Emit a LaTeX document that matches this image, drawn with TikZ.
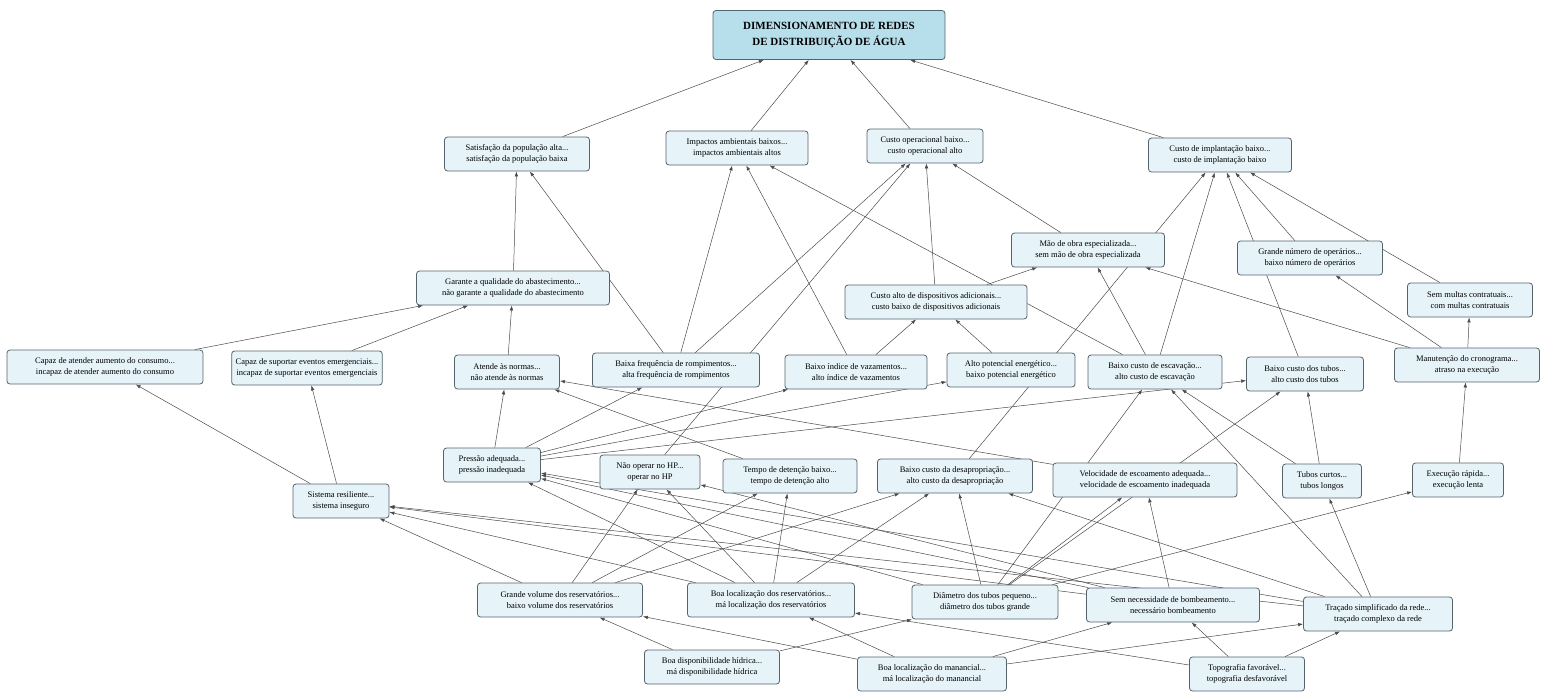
\documentclass[tikz,border=0pt]{standalone}
\usepackage{fontspec}
\setmainfont{Liberation Serif}
\usepackage{xcolor}
\usetikzlibrary{arrows.meta,backgrounds}
\definecolor{boxfill}{HTML}{E6F4FA}
\definecolor{boxdraw}{HTML}{55646A}
\definecolor{titlefill}{HTML}{B6DEEB}
\definecolor{linkcol}{HTML}{4A4A4A}
\begin{document}
\begin{tikzpicture}[x=1pt,y=-1pt,>={Latex[length=5pt,width=3.5pt]},
 fator/.style={draw=boxdraw,fill=boxfill,rounded corners=3pt,align=center,inner xsep=4pt,inner ysep=3pt,minimum height=34pt,font=\fontsize{8.5}{10.5}\selectfont,line width=0.8pt},
 meta/.style={fator,fill=titlefill,font=\fontsize{11}{16}\selectfont\bfseries,minimum width=232pt,minimum height=49pt},
 link/.style={->,draw=linkcol,line width=0.5pt}]
\useasboundingbox (0,0) rectangle (1542,691);
\node[meta] (nTit) at (829,35) {DIMENSIONAMENTO DE REDES\\DE DISTRIBUIÇÃO DE ÁGUA};
\node[fator,minimum width=145pt] (nSat) at (517,154) {Satisfação da população alta...\\satisfação da população baixa};
\node[fator,minimum width=142pt] (nImp) at (737,148) {Impactos ambientais baixos...\\impactos ambientais altos};
\node[fator,minimum width=116pt] (nCop) at (925,146) {Custo operacional baixo...\\custo operacional alto};
\node[fator,minimum width=143pt] (nCimp) at (1220,155) {Custo de implantação baixo...\\custo de implantação baixo};
\node[fator,minimum width=193pt] (nGar) at (513,288) {Garante a qualidade do abastecimento...\\não garante a qualidade do abastecimento};
\node[fator,minimum width=153pt] (nMao) at (1088,250) {Mão de obra especializada...\\sem mão de obra especializada};
\node[fator,minimum width=145pt] (nOper) at (1310,258) {Grande número de operários...\\baixo número de operários};
\node[fator,minimum width=125pt] (nMult) at (1470,300) {Sem multas contratuais...\\com multas contratuais};
\node[fator,minimum width=182pt] (nDisp) at (936,302) {Custo alto de dispositivos adicionais...\\custo baixo de dispositivos adicionais};
\node[fator,minimum width=196pt] (nAten) at (105,367) {Capaz de atender aumento do consumo...\\incapaz de atender aumento do consumo};
\node[fator,minimum width=149pt] (nSup) at (307,368) {Capaz de suportar eventos emergenciais...\\incapaz de suportar eventos emergenciais};
\node[fator,minimum width=105pt] (nNorm) at (507,372) {Atende às normas...\\não atende às normas};
\node[fator,minimum width=167pt] (nRomp) at (676,370) {Baixa frequência de rompimentos...\\alta frequência de rompimentos};
\node[fator,minimum width=142pt] (nVaz) at (856,372) {Baixo índice de vazamentos...\\alto índice de vazamentos};
\node[fator,minimum width=128pt] (nPot) at (1011,370) {Alto potencial energético...\\baixo potencial energético};
\node[fator,minimum width=134pt] (nEsc) at (1155,372) {Baixo custo de escavação...\\alto custo de escavação};
\node[fator,minimum width=117pt] (nTub) at (1305,374) {Baixo custo dos tubos...\\alto custo dos tubos};
\node[fator,minimum width=145pt] (nMan) at (1467,365) {Manutenção do cronograma...\\atraso na execução};
\node[fator,minimum width=97pt] (nPres) at (492,465) {Pressão adequada...\\pressão inadequada};
\node[fator,minimum width=100pt] (nHP) at (650,472) {Não operar no HP...\\operar no HP};
\node[fator,minimum width=134pt] (nTdet) at (790,476) {Tempo de detenção baixo...\\tempo de detenção alto};
\node[fator,minimum width=155pt] (nDesap) at (955,476) {Baixo custo da desapropriação...\\alto custo da desapropriação};
\node[fator,minimum width=184pt] (nVel) at (1145,480) {Velocidade de escoamento adequada...\\velocidade de escoamento inadequada};
\node[fator,minimum width=79pt] (nCurt) at (1322,481) {Tubos curtos...\\tubos longos};
\node[fator,minimum width=91pt] (nExec) at (1458,480) {Execução rápida...\\execução lenta};
\node[fator,minimum width=96pt] (nSis) at (341,501) {Sistema resiliente...\\sistema inseguro};
\node[fator,minimum width=165pt] (nVol) at (560,600) {Grande volume dos reservatórios...\\baixo volume dos reservatórios};
\node[fator,minimum width=167pt] (nLocr) at (771,600) {Boa localização dos reservatórios...\\má localização dos reservatórios};
\node[fator,minimum width=146pt] (nDiam) at (985,602) {Diâmetro dos tubos pequeno...\\diâmetro dos tubos grande};
\node[fator,minimum width=173pt] (nBomb) at (1173,605) {Sem necessidade de bombeamento...\\necessário bombeamento};
\node[fator,minimum width=149pt] (nTrac) at (1378,614) {Traçado simplificado da rede...\\traçado complexo da rede};
\node[fator,minimum width=135pt] (nHid) at (712,667) {Boa disponibilidade hídrica...\\má disponibilidade hídrica};
\node[fator,minimum width=149pt] (nManc) at (932,674) {Boa localização do manancial...\\má localização do manancial};
\node[fator,minimum width=115pt] (nTopo) at (1247,674) {Topografia favorável...\\topografia desfavorável};
\begin{scope}[on background layer]
\draw[link] (nSat) -- (nTit);
\draw[link] (nImp) -- (nTit);
\draw[link] (nCop) -- (nTit);
\draw[link] (nCimp) -- (nTit);
\draw[link] (nGar) -- (nSat);
\draw[link] (nRomp) -- (nSat);
\draw[link] (nRomp) -- (nImp);
\draw[link] (nVaz) -- (nImp);
\draw[link] (nEsc) -- (nImp);
\draw[link] (nRomp) -- (nCop);
\draw[link] (nHP) -- (nCop);
\draw[link] (nDisp) -- (nCop);
\draw[link] (nMao) -- (nCop);
\draw[link] (nDesap) -- (nCimp);
\draw[link] (nEsc) -- (nCimp);
\draw[link] (nTub) -- (nCimp);
\draw[link] (nOper) -- (nCimp);
\draw[link] (nMult) -- (nCimp);
\draw[link] (nDisp) -- (nMao);
\draw[link] (nEsc) -- (nMao);
\draw[link] (nMan) -- (nMao);
\draw[link] (nMan) -- (nOper);
\draw[link] (nMan) -- (nMult);
\draw[link] (nExec) -- (nMan);
\draw[link] (nVaz) -- (nDisp);
\draw[link] (nPot) -- (nDisp);
\draw[link] (nAten) -- (nGar);
\draw[link] (nSup) -- (nGar);
\draw[link] (nNorm) -- (nGar);
\draw[link] (nSis) -- (nAten);
\draw[link] (nSis) -- (nSup);
\draw[link] (nPres) -- (nNorm);
\draw[link] (nTdet) -- (nNorm);
\draw[link] (nVel) -- (nNorm);
\draw[link] (nPres) -- (nRomp);
\draw[link] (nPres) -- (nVaz);
\draw[link] (nPres) -- (nPot);
\draw[link] (nPres) -- (nTub);
\draw[link] (nDiam) -- (nPres);
\draw[link] (nBomb) -- (nPres);
\draw[link] (nTrac) -- (nPres);
\draw[link] (nLocr) -- (nPres);
\draw[link] (nVol) -- (nHP);
\draw[link] (nLocr) -- (nHP);
\draw[link] (nBomb) -- (nHP);
\draw[link] (nVol) -- (nTdet);
\draw[link] (nLocr) -- (nTdet);
\draw[link] (nVol) -- (nDesap);
\draw[link] (nLocr) -- (nDesap);
\draw[link] (nDiam) -- (nDesap);
\draw[link] (nTrac) -- (nDesap);
\draw[link] (nDiam) -- (nVel);
\draw[link] (nBomb) -- (nVel);
\draw[link] (nDiam) -- (nEsc);
\draw[link] (nTrac) -- (nEsc);
\draw[link] (nCurt) -- (nEsc);
\draw[link] (nDiam) -- (nTub);
\draw[link] (nCurt) -- (nTub);
\draw[link] (nTrac) -- (nCurt);
\draw[link] (nDiam) -- (nExec);
\draw[link] (nVol) -- (nSis);
\draw[link] (nLocr) -- (nSis);
\draw[link] (nBomb) -- (nSis);
\draw[link] (nTrac) -- (nSis);
\draw[link] (nHid) -- (nVol);
\draw[link] (nManc) -- (nVol);
\draw[link] (nManc) -- (nLocr);
\draw[link] (nTopo) -- (nLocr);
\draw[link] (nHid) -- (nDiam);
\draw[link] (nManc) -- (nBomb);
\draw[link] (nTopo) -- (nBomb);
\draw[link] (nManc) -- (nTrac);
\draw[link] (nTopo) -- (nTrac);
\end{scope}
\end{tikzpicture}
\end{document}
